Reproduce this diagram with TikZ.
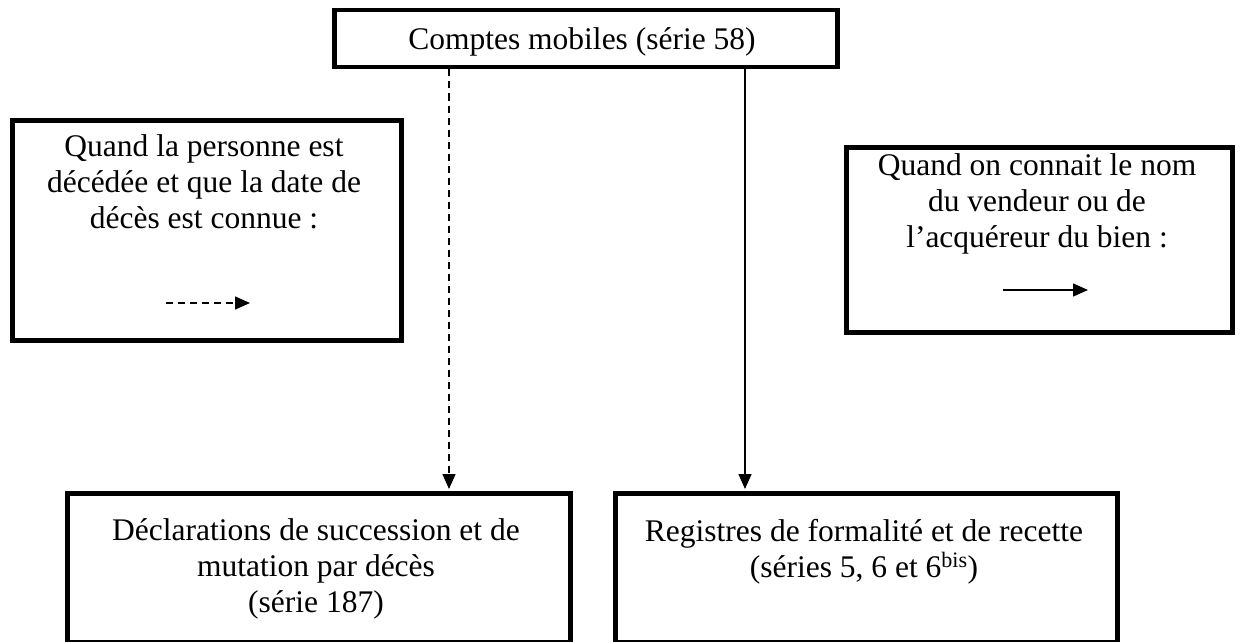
\documentclass[tikz,border=0pt]{standalone}
\usepackage{fontspec}
\setmainfont{Liberation Serif}
\usetikzlibrary{arrows.meta}
\usetikzlibrary{positioning}

\tikzset{
	boite/.style={draw,line width=4.5pt,inner sep=0pt,anchor=north west},
	texte/.style={align=center,inner sep=0pt,anchor=base,font=\fontsize{31.5}{36}\selectfont},
	fleche/.style={line width=1.5pt,-{Triangle[length=15pt,width=13pt]}},
	pointille/.style={fleche,dash pattern=on 7pt off 5pt},
}

\begin{document}
\begin{tikzpicture}[x=1pt,y=-1pt]
	\useasboundingbox (0,0) rectangle (1240,642);
	
	% source
	\node[boite,minimum width=503pt,minimum height=57pt] (comptes) at (332,8) {};
	\node[texte] (tcomptes) at (582,50) {Comptes mobiles (série 58)};
	
	% legendes
	\node[boite,minimum width=389pt,minimum height=220pt] (deces) at (10,118) {};
	\node[texte] (tdeces) at (204,228) {Quand la personne est\\décédée et que la date de\\décès est connue :};
	\coordinate (ldeces1) at (166,303);
	\coordinate (ldeces2) at (250,303);
	\draw[pointille] (ldeces1) -- (ldeces2);
	
	\node[boite,minimum width=386pt,minimum height=185pt] (vente) at (844,145) {};
	\node[texte] (tvente) at (1037,247) {Quand on connait le nom\\du vendeur ou de\\l’acquéreur du bien :};
	\coordinate (lvente1) at (1003,290);
	\coordinate (lvente2) at (1088,290);
	\draw[fleche] (lvente1) -- (lvente2);
	
	% destinations
	\node[boite,minimum width=503pt,minimum height=149pt] (succ) at (65,491) {};
	\node[texte] (tsucc) at (316,612) {Déclarations de succession et de\\mutation par décès\\(série 187)};
	
	\node[boite,minimum width=502pt,minimum height=149pt] (regs) at (613,491) {};
	\node[texte] (tregs) at (864,577) {Registres de formalité et de recette\\(séries 5, 6 et 6\textsuperscript{bis})};
	
	% liens
	\coordinate (xsucc) at (449,0);
	\coordinate (xregs) at (745,0);
	\draw[pointille] (comptes.south -| xsucc) -- ([yshift=2pt]succ.north -| xsucc);
	\draw[fleche] (comptes.south -| xregs) -- ([yshift=2pt]regs.north -| xregs);
	
\end{tikzpicture}
\end{document}
